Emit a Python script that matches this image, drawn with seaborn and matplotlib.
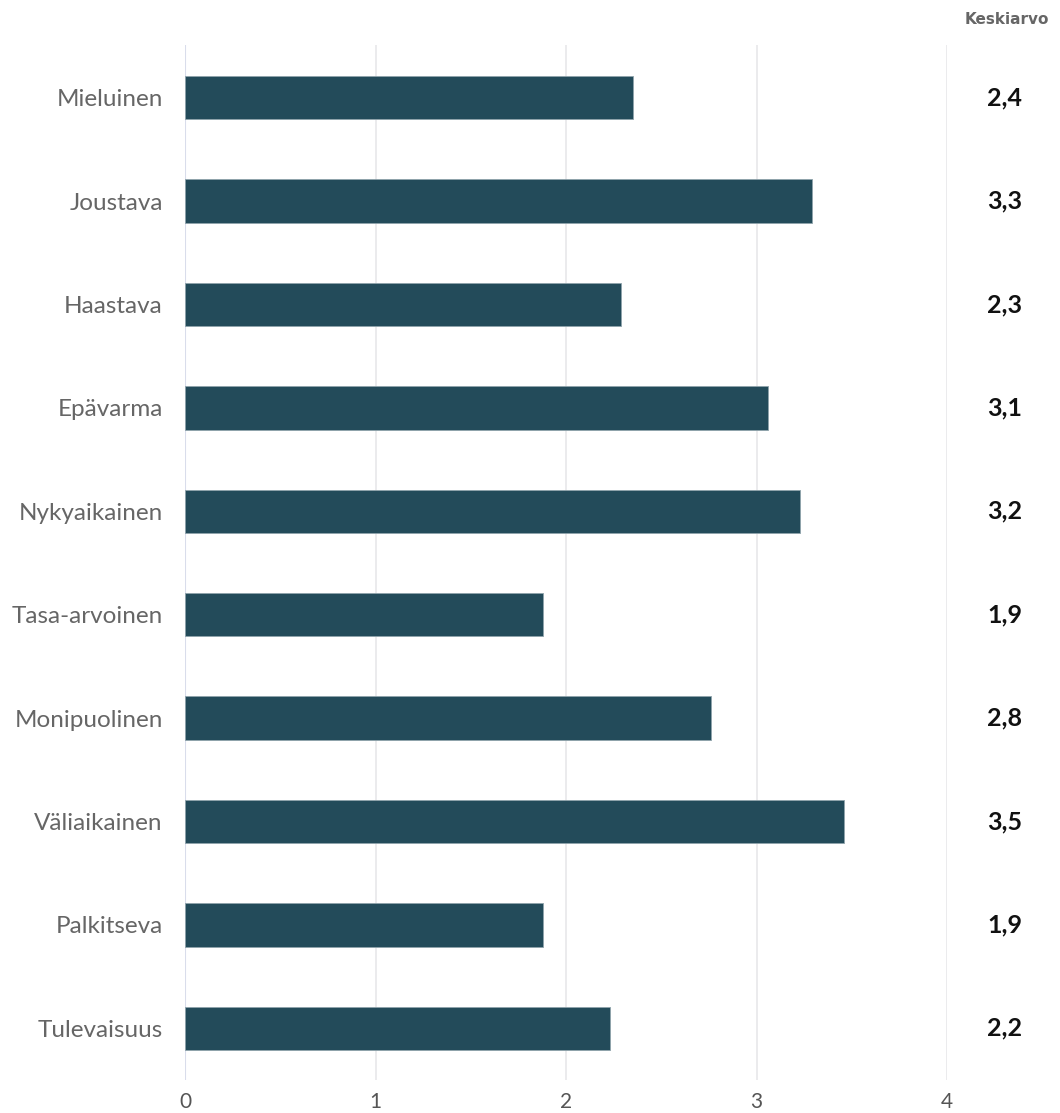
import matplotlib
matplotlib.use("Agg")
import matplotlib.pyplot as plt
import matplotlib.transforms as mtransforms
import seaborn as sns
import pandas as pd

categories = ["Mieluinen", "Joustava", "Haastava", "Epävarma", "Nykyaikainen",
              "Tasa-arvoinen", "Monipuolinen", "Väliaikainen", "Palkitseva", "Tulevaisuus"]
values = [2.35, 3.29, 2.29, 3.06, 3.23, 1.88, 2.76, 3.46, 1.88, 2.23]
mean_labels = ["2,4", "3,3", "2,3", "3,1", "3,2", "1,9", "2,8", "3,5", "1,9", "2,2"]
x_ticks = [0, 1, 2, 3, 4]

sns.set_theme(style="white")
plt.rcParams['font.family'] = ['Lato', 'DejaVu Sans']

df = pd.DataFrame({"category": categories, "value": values})

fig = plt.figure(figsize=(10.6, 11.13), dpi=100)
ax = fig.add_axes([185/1060, 1 - 1080/1113, (947-185)/1060, (1080-45)/1113])

sns.barplot(data=df, y="category", x="value", orient="h", color="#234b5a",
            width=0.42, saturation=1, ax=ax, zorder=3,
            edgecolor="#8fa3ab", linewidth=0.6)

ax.set_xlim(0, 4)
ax.set_ylim(9.5, -0.51)
ax.set_xticks(x_ticks)
ax.set_xticklabels([str(t) for t in x_ticks])
for t in x_ticks[1:]:
    ax.axvline(t, color="#e8e8ea", lw=1.2, zorder=1)
ax.axvline(0, color="#d9ddeb", lw=1.5, zorder=2)
for s in ax.spines.values():
    s.set_visible(False)
ax.set_xlabel("")
ax.set_ylabel("")
ax.tick_params(axis="x", length=0, pad=9, labelsize=15, labelcolor="#555555")
ax.tick_params(axis="y", length=0, pad=16, labelsize=17.5, labelcolor="#666666")

trans = mtransforms.blended_transform_factory(fig.transFigure, ax.transData)
for i, lab in enumerate(mean_labels):
    ax.text(1005/1060, i, lab, transform=trans, ha="center", va="center",
            fontsize=18, fontweight="bold", color="#111111", clip_on=False)

fig.text(1007/1060, 1 - 20/1113, "Keskiarvo", ha="center", va="center",
         fontsize=11, fontweight="bold", color="#666666", family=["DejaVu Sans"])

fig.savefig("out.png", dpi=100)
